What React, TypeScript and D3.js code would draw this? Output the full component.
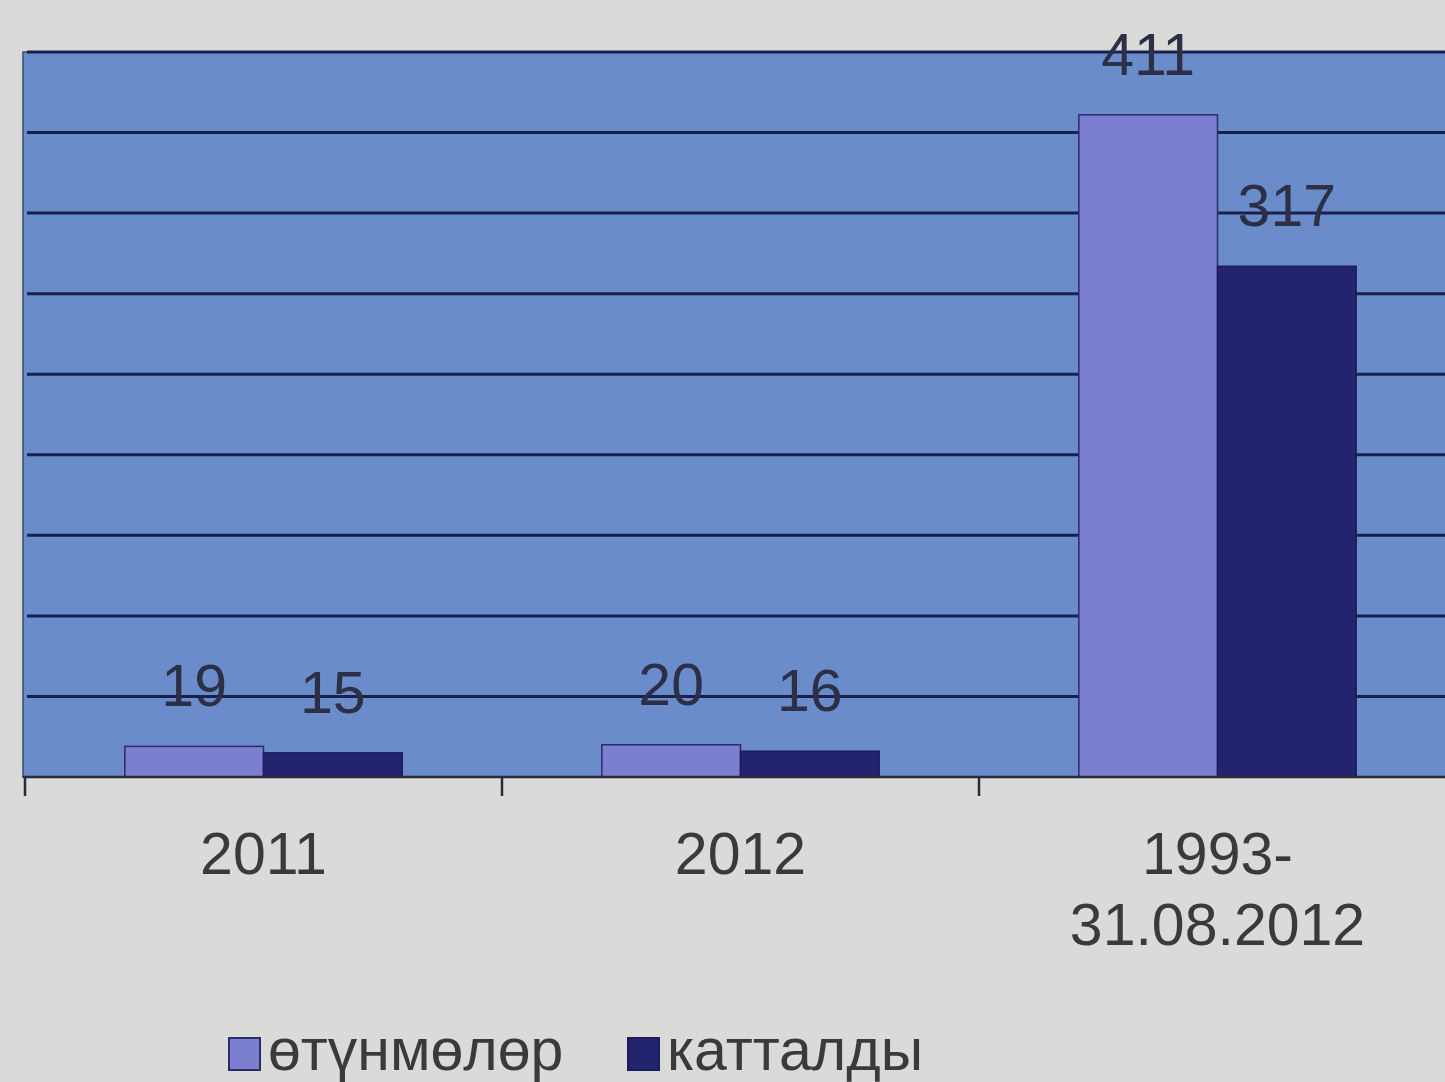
import React from "react";
import * as d3 from "d3";

const categories: string[][] = [["2011"], ["2012"], ["1993-", "31.08.2012"]];
const seriesNames = ["өтүнмөлөр", "катталды"];
const applications = [19, 20, 411];
const registered = [15, 16, 317];
const yTicks = [0, 50, 100, 150, 200, 250, 300, 350, 400, 450];

const W = 1445;
const H = 1082;
const plotLeft = 23;
const plotRight = 1456;
const plotTop = 52;
const plotBottom = 777;
const colors = ["#7c7fd0", "#23236f"];
const strokes = ["#2a2c66", "#1c1c5c"];

export default function App() {
  const catKeys = categories.map((c) => c.join(" "));
  const x0 = d3.scaleBand<string>().domain(catKeys).range([plotLeft + 2, plotRight]).paddingInner(0).paddingOuter(0);
  const x1 = d3.scaleBand<string>().domain(seriesNames).range([0, x0.step()]).paddingInner(0).paddingOuter(0.72);
  const y = d3.scaleLinear().domain([0, 450]).range([plotBottom, plotTop]);
  const series = [applications, registered];

  return (
    <div style={{ position: "fixed", left: 0, top: 0 }}>
      <svg width={W} height={H} style={{ display: "block", background: "#dadad8" }} fontFamily="'Liberation Sans', Arial, sans-serif">
        <rect x={plotLeft} y={plotTop} width={plotRight - plotLeft} height={plotBottom - plotTop} fill="#6a8ccb" stroke="#3d4a78" strokeWidth={1.5} />
        {yTicks.slice(1).map((t) => (
          <line key={t} x1={plotLeft + 4} x2={plotRight} y1={y(t)} y2={y(t)} stroke="#19204e" strokeWidth={3} />
        ))}
        {catKeys.map((k, i) =>
          series.map((vals, s) => {
            const bx = (x0(k) as number) + (x1(seriesNames[s]) as number);
            return (
              <rect key={k + s} x={bx} y={y(vals[i])} width={x1.bandwidth()} height={plotBottom - y(vals[i])} fill={colors[s]} stroke={strokes[s]} strokeWidth={1.5} />
            );
          })
        )}
        <line x1={plotLeft} x2={plotRight} y1={plotBottom} y2={plotBottom} stroke="#2a2a3a" strokeWidth={2.5} />
        {[...catKeys.map((k) => x0(k) as number), plotRight].map((tx, i) => (
          <line key={"t" + i} x1={tx} x2={tx} y1={plotBottom} y2={plotBottom + 19} stroke="#2a2a3a" strokeWidth={2.5} />
        ))}
        {catKeys.map((k, i) =>
          series.map((vals, s) => {
            const cx = (x0(k) as number) + (x1(seriesNames[s]) as number) + x1.bandwidth() / 2;
            return (
              <text key={"v" + k + s} x={cx} y={y(vals[i]) - 40} textAnchor="middle" fontSize={59} fill="#2c2f45">
                {vals[i]}
              </text>
            );
          })
        )}
        {categories.map((lines, i) => (
          <text key={"c" + i} x={(x0(catKeys[i]) as number) + x0.bandwidth() / 2} textAnchor="middle" fontSize={59} fill="#3a3a3a">
            {lines.map((ln, j) => (
              <tspan key={j} x={(x0(catKeys[i]) as number) + x0.bandwidth() / 2} y={874 + j * 71}>
                {ln}
              </tspan>
            ))}
          </text>
        ))}
        {seriesNames.map((name, s) => {
          const lx = [229, 628][s];
          return (
            <g key={"l" + s}>
              <rect x={lx} y={1038} width={31} height={32} fill={colors[s]} stroke={strokes[s]} strokeWidth={2} />
              <text x={lx + 39} y={1070} fontSize={59} fill="#3a3a3a">
                {name}
              </text>
            </g>
          );
        })}
      </svg>
    </div>
  );
}
